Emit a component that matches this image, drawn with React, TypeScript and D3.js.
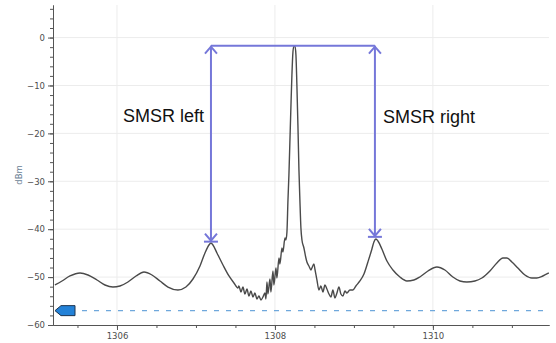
import React, { useEffect, useRef } from "react";
import * as d3 from "d3";

// spectrum trace (nm / dBm)
const wavelength = [
  1305.215, 1305.304, 1305.405, 1305.532, 1305.633, 1305.747, 1305.848, 1305.949,
  1306.038, 1306.139, 1306.241, 1306.342, 1306.443, 1306.544, 1306.646, 1306.772,
  1306.873, 1306.962, 1307.051, 1307.114, 1307.165, 1307.19, 1307.215, 1307.266,
  1307.342, 1307.418, 1307.481, 1307.532, 1307.544, 1307.57, 1307.595, 1307.62,
  1307.646, 1307.671, 1307.696, 1307.722, 1307.747, 1307.772, 1307.797, 1307.823,
  1307.848, 1307.873, 1307.886, 1307.899, 1307.911, 1307.937, 1307.949, 1307.975,
  1307.987, 1308.013, 1308.025, 1308.051, 1308.063, 1308.089, 1308.101, 1308.127,
  1308.139, 1308.152, 1308.165, 1308.177, 1308.19, 1308.203, 1308.215, 1308.228,
  1308.241, 1308.253, 1308.266, 1308.278, 1308.291, 1308.304, 1308.316, 1308.329,
  1308.342, 1308.367, 1308.392, 1308.405, 1308.43, 1308.456, 1308.468, 1308.494,
  1308.506, 1308.532, 1308.557, 1308.582, 1308.608, 1308.633, 1308.658, 1308.684,
  1308.709, 1308.734, 1308.759, 1308.785, 1308.81, 1308.835, 1308.861, 1308.886,
  1308.911, 1308.949, 1308.987, 1309.025, 1309.076, 1309.127, 1309.177, 1309.228,
  1309.253, 1309.278, 1309.304, 1309.354, 1309.418, 1309.494, 1309.582, 1309.671,
  1309.759, 1309.835, 1309.937, 1310.051, 1310.152, 1310.253, 1310.342, 1310.43,
  1310.532, 1310.62, 1310.722, 1310.81, 1310.886, 1310.937, 1311.0, 1311.076,
  1311.165, 1311.253, 1311.316, 1311.392, 1311.468,
];
const power = [
  -51.65, -50.81, -49.77, -49.14, -49.56, -50.61, -51.65, -52.07,
  -51.86, -51.02, -49.77, -48.94, -49.56, -50.81, -52.07, -52.69,
  -52.07, -50.4, -47.68, -44.97, -43.3, -42.88, -43.3, -44.97,
  -47.47, -49.77, -51.23, -52.28, -51.86, -53.11, -52.07, -53.53,
  -52.49, -53.95, -52.9, -54.16, -53.32, -54.57, -53.95, -54.78,
  -54.16, -53.32, -54.57, -51.02, -53.53, -50.4, -53.11, -48.73,
  -51.65, -48.1, -50.19, -46.01, -47.27, -43.93, -44.76, -41.84,
  -42.25, -40.58, -33.9, -28.69, -21.38, -14.07, -7.81, -3.01,
  -1.75, -1.75, -3.63, -9.9, -18.25, -27.64, -33.9, -39.75,
  -42.25, -43.93, -46.01, -46.85, -47.68, -48.52, -48.1, -47.27,
  -48.31, -50.61, -52.69, -51.86, -53.11, -51.65, -52.49, -53.53,
  -54.16, -52.69, -54.36, -53.32, -52.07, -53.53, -53.95, -52.9,
  -53.32, -52.69, -52.69, -51.86, -50.81, -49.35, -46.85, -44.13,
  -42.67, -42.05, -42.46, -44.13, -46.64, -48.52, -49.98, -50.81,
  -50.61, -49.98, -48.73, -47.89, -48.52, -49.98, -50.81, -51.02,
  -50.81, -50.19, -48.73, -47.06, -46.01, -46.01, -46.85, -48.1,
  -49.56, -50.19, -50.19, -49.77, -49.14,
];

const peakPower = -1.7;
const smsrWavelength = [1307.19, 1309.266];
const smsrPower = [-42.6, -41.6];
const smsrLabels = ["SMSR left", "SMSR right"];
const thresholdPower = -57;

const xMajorTicks = [1306, 1308, 1310];
const yMajorTicks = [0, -10, -20, -30, -40, -50, -60];

const App = () => {
  const chart = useRef<SVGSVGElement>(null);
  const dimensions = { width: 556, height: 343 };
  const margin = { top: 5, right: 7, bottom: 18, left: 53 };

  useEffect(() => {
    const svg = d3.select(chart.current);
    svg.selectAll("*").remove();

    const innerBottom = dimensions.height - margin.bottom;
    const innerRight = dimensions.width - margin.right;

    const xScale = d3
      .scaleLinear()
      .domain([1305.19, 1311.47])
      .range([margin.left, innerRight]);
    const yScale = d3
      .scaleLinear()
      .domain([-60, 6.8])
      .range([innerBottom, margin.top]);

    const lineColor = "#7577d9";
    const font = "'DejaVu Sans', 'Liberation Sans', sans-serif";
    const labelFont = "'Liberation Sans', Arial, sans-serif";

    // grid
    const grid = svg.append("g");
    grid
      .selectAll("line.h")
      .data(yMajorTicks.filter((d) => d > -60))
      .join("line")
      .attr("x1", margin.left)
      .attr("x2", innerRight)
      .attr("y1", (d) => yScale(d))
      .attr("y2", (d) => yScale(d))
      .attr("stroke", "#ececec");
    grid
      .selectAll("line.v")
      .data(xMajorTicks)
      .join("line")
      .attr("x1", (d) => xScale(d))
      .attr("x2", (d) => xScale(d))
      .attr("y1", margin.top)
      .attr("y2", innerBottom)
      .attr("stroke", "#ececec");

    // axes
    const xAxis = d3.axisBottom(xScale).tickValues(xMajorTicks).tickSize(5).tickSizeOuter(0).tickFormat(d3.format("d"));
    const xMinor = d3.axisBottom(xScale).tickValues(d3.range(1305.5, 1311.5, 0.5)).tickSize(3).tickSizeOuter(0).tickFormat(() => "");
    const yAxis = d3.axisLeft(yScale).tickValues(yMajorTicks).tickSize(5).tickSizeOuter(0);
    const yMinor = d3.axisLeft(yScale).tickValues(d3.range(-60, 7, 2)).tickSize(3).tickSizeOuter(0).tickFormat(() => "");

    svg.append("g").attr("transform", `translate(0, ${innerBottom})`).call(xMinor);
    svg.append("g").attr("transform", `translate(0, ${innerBottom})`).call(xAxis);
    svg.append("g").attr("transform", `translate(${margin.left}, 0)`).call(yMinor);
    svg.append("g").attr("transform", `translate(${margin.left}, 0)`).call(yAxis);

    svg.selectAll(".domain").attr("stroke", "#555");
    svg.selectAll(".tick line").attr("stroke", "#555");
    svg
      .selectAll(".tick text")
      .attr("fill", "#4d4d4d")
      .style("font-family", font)
      .style("font-size", "8.5px");

    svg
      .append("text")
      .attr("transform", `translate(22, 175) rotate(-90)`)
      .attr("text-anchor", "middle")
      .attr("fill", "#6b7f95")
      .style("font-family", font)
      .style("font-size", "8.5px")
      .text("dBm");

    // threshold line + marker
    const ty = yScale(thresholdPower);
    svg
      .append("line")
      .attr("x1", margin.left + 29)
      .attr("x2", innerRight)
      .attr("y1", ty)
      .attr("y2", ty)
      .attr("stroke", "#6fa8dc")
      .attr("stroke-width", 1.2)
      .attr("stroke-dasharray", "5 7");
    const mx = margin.left + 2;
    svg
      .append("path")
      .attr("d", `M${mx},${ty} L${mx + 6},${ty - 5} L${mx + 20},${ty - 5} L${mx + 20},${ty + 5} L${mx + 6},${ty + 5} Z`)
      .attr("fill", "#2382d8")
      .attr("stroke", "#1d3550")
      .attr("stroke-width", 1);

    // spectrum
    const points = wavelength.map((w, i) => [w, power[i]] as [number, number]);
    const line = d3
      .line<[number, number]>()
      .x((d) => xScale(d[0]))
      .y((d) => yScale(d[1]))
      .curve(d3.curveMonotoneX);
    svg
      .append("path")
      .datum(points)
      .attr("d", line)
      .attr("fill", "none")
      .attr("stroke", "#4a4a4a")
      .attr("stroke-width", 1.4);

    // SMSR arrows
    const topY = yScale(peakPower);
    const ann = svg.append("g").attr("stroke", lineColor).attr("stroke-width", 2).attr("fill", "none");
    ann
      .append("line")
      .attr("x1", xScale(smsrWavelength[0]))
      .attr("x2", xScale(smsrWavelength[1]))
      .attr("y1", topY)
      .attr("y2", topY);
    smsrWavelength.forEach((w, i) => {
      const x = xScale(w);
      const by = yScale(smsrPower[i]);
      ann.append("line").attr("x1", x).attr("x2", x).attr("y1", topY).attr("y2", by);
      ann.append("path").attr("d", `M${x - 6},${topY + 8} L${x},${topY + 1} L${x + 6},${topY + 8}`);
      ann.append("path").attr("d", `M${x - 6},${by - 8} L${x},${by - 1} L${x + 6},${by - 8}`);
      ann.append("line").attr("x1", x - 7).attr("x2", x + 7).attr("y1", by).attr("y2", by);
    });

    svg
      .selectAll("text.smsr")
      .data(smsrLabels)
      .join("text")
      .attr("class", "smsr")
      .attr("x", (_, i) => (i === 0 ? xScale(smsrWavelength[0]) - 7 : xScale(smsrWavelength[1]) + 8))
      .attr("y", (_, i) => (i === 0 ? 122 : 123))
      .attr("text-anchor", (_, i) => (i === 0 ? "end" : "start"))
      .attr("fill", "#111")
      .style("font-family", labelFont)
      .style("font-size", "18px")
      .text((d) => d);
  }, []);

  return (
    <svg
      ref={chart}
      width={dimensions.width}
      height={dimensions.height}
      style={{ position: "absolute", left: 0, top: 0, background: "white" }}
    ></svg>
  );
};

export default App;
